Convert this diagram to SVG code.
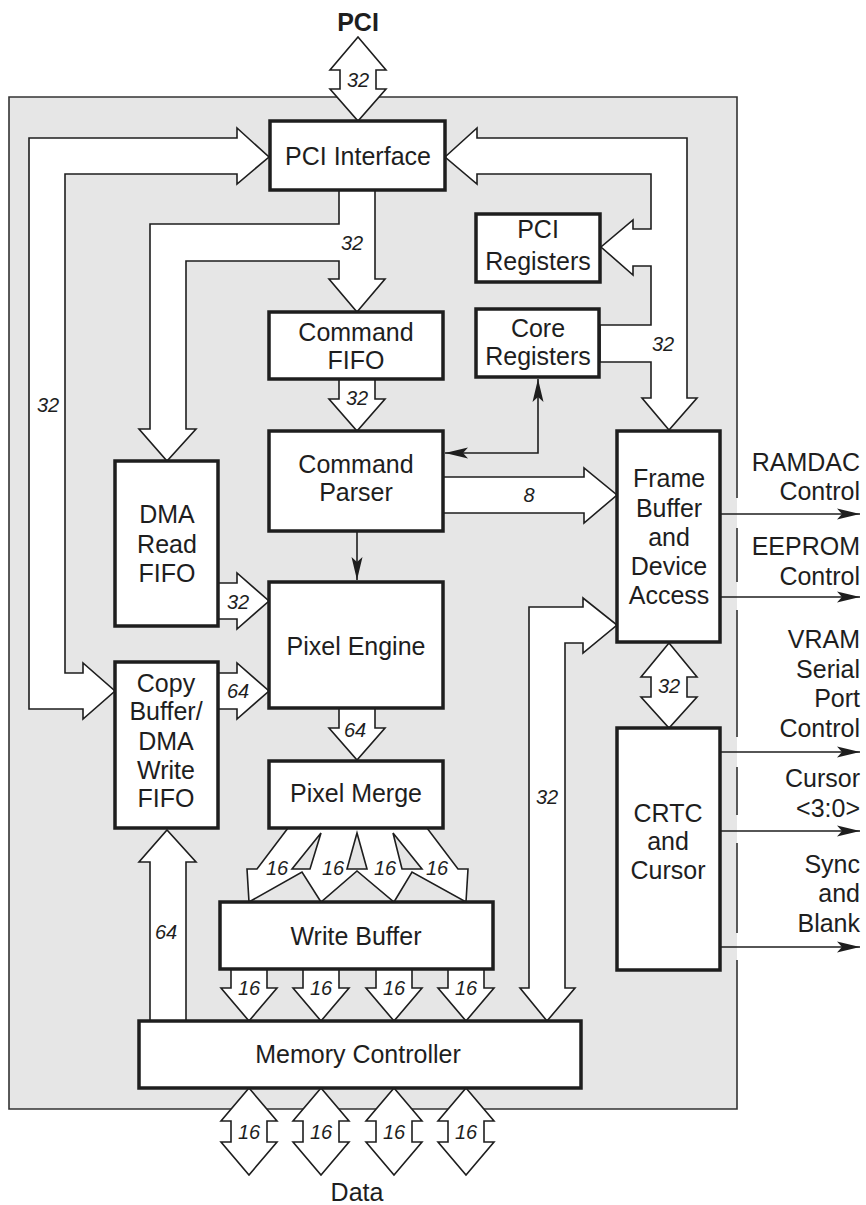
<svg xmlns="http://www.w3.org/2000/svg" width="866" height="1205" viewBox="0 0 866 1205">
<style>
.box{fill:#fff;stroke:#1e1e1e;stroke-width:3.5}
.t{font-family:"Liberation Sans",Arial,sans-serif;font-size:25px;fill:#1e1e1e;text-anchor:middle}
.tb{font-weight:bold}
.r{text-anchor:end}
.num{font-family:"Liberation Sans",Arial,sans-serif;font-size:20px;font-style:italic;fill:#1e1e1e;text-anchor:middle}
.bus{fill:#fff;stroke:#1e1e1e;stroke-width:1.6;stroke-linejoin:miter}
.wire{fill:none;stroke:#1e1e1e;stroke-width:1.6}
.border{fill:none;stroke:#333;stroke-width:1.6}
</style>
<defs>
<marker id="ah" viewBox="-24 -7 25 14" refX="0" refY="0" markerWidth="25" markerHeight="14" markerUnits="userSpaceOnUse" orient="auto-start-reverse">
<path d="M0,0 L-23,-5.5 L-18,0 L-23,5.5 Z" fill="#1e1e1e"/>
</marker>
</defs>

<g id="chip">
<rect x="9" y="97" width="728" height="1012" fill="#e6e6e6"/>
<path class="border" d="M737,498 V97 H9 V1109 H737 V960 M737,933 V843 M737,815 V767 M737,737 V610 M737,582 V528"/>
</g>

<g id="connectors">
<!-- PCI external double arrow -->
<path class="bus" d="M358,37 L386,70 L376,70 L376,89 L386,89 L358,121 L330,89 L340,89 L340,70 L330,70 Z"/>
<!-- Left bus PCI Interface <-> Copy Buffer -->
<path class="bus" d="M237,138 L29,138 L29,709 L83,709 L83,719 L115,691 L83,663 L83,673 L65,673 L65,174 L237,174 L237,184 L269,157 L237,128 Z"/>
<!-- PCI Interface -> Command FIFO and DMA Read FIFO -->
<path class="bus" d="M339,190 L339,224 L150,224 L150,429 L139,429 L167,461 L196,429 L186,429 L186,261 L339,261 L339,279 L329,279 L357,312 L385,279 L375,279 L375,190 Z"/>
<!-- Right bus PCI Interface <-> PCI Registers, Core Registers, Frame Buffer -->
<path class="bus" d="M445,157 L477,128 L477,138 L687,138 L687,398 L697,398 L669,430 L642,398 L651,398 L651,362 L600,362 L600,325 L651,325 L651,266 L633,266 L633,275 L601,247 L633,220 L633,229 L651,229 L651,174 L477,174 L477,184 Z"/>
<!-- Command FIFO -> Command Parser -->
<path class="bus" d="M339,379 L339,399 L329,399 L357,431 L385,399 L375,399 L375,379 Z"/>
<!-- Command Parser -> Frame Buffer (8) -->
<path class="bus" d="M443,477 L584,477 L584,468 L617,495 L584,523 L584,513 L443,513 Z"/>
<!-- DMA Read FIFO -> Pixel Engine -->
<path class="bus" d="M218,583 L237,583 L237,573 L269,601 L237,629 L237,619 L218,619 Z"/>
<!-- Copy Buffer -> Pixel Engine -->
<path class="bus" d="M218,673 L237,673 L237,663 L269,691 L237,719 L237,709 L218,709 Z"/>
<!-- Pixel Engine -> Pixel Merge -->
<path class="bus" d="M339,708 L339,728 L329,728 L357,760 L385,728 L375,728 L375,708 Z"/>
<!-- Pixel Merge -> Write Buffer fan -->
<path class="bus" fill-rule="evenodd" d="M288,828 L257,869 L247,869 L249,902 L302,872 L321,902 L357,871 L394,902 L412,872 L466,902 L468,869 L458,869 L427,828 Z M321,833 L292,869 L310,869 Z M357,833 L347,869 L367,869 Z M393,833 L402,869 L422,869 Z"/>
<!-- Write Buffer -> Memory Controller -->
<path class="bus" d="M231,969 L231,988 L221,988 L249,1021 L277,988 L267,988 L267,969 Z"/>
<path class="bus" d="M303,969 L303,988 L293,988 L321,1021 L349,988 L339,988 L339,969 Z"/>
<path class="bus" d="M376,969 L376,988 L366,988 L394,1021 L422,988 L412,988 L412,969 Z"/>
<path class="bus" d="M448,969 L448,988 L438,988 L466,1021 L494,988 L484,988 L484,969 Z"/>
<!-- Memory Controller -> Copy Buffer -->
<path class="bus" d="M150,1021 L150,862 L139,862 L167,830 L196,862 L186,862 L186,1021 Z"/>
<!-- Memory Controller <-> Frame Buffer -->
<path class="bus" d="M583,607 L529,607 L529,988 L520,988 L547,1021 L575,988 L565,988 L565,643 L583,643 L583,653 L617,625 L583,598 Z"/>
<!-- Frame Buffer <-> CRTC -->
<path class="bus" d="M669,643 L697,677 L687,677 L687,697 L697,697 L669,728 L641,697 L651,697 L651,677 L641,677 Z"/>
<!-- Memory data double arrows -->
<path class="bus" d="M249,1088 L277,1121 L267,1121 L267,1142 L277,1142 L249,1175 L221,1142 L231,1142 L231,1121 L221,1121 Z"/>
<path class="bus" d="M321,1088 L349,1121 L339,1121 L339,1142 L349,1142 L321,1175 L293,1142 L303,1142 L303,1121 L293,1121 Z"/>
<path class="bus" d="M394,1088 L422,1121 L412,1121 L412,1142 L422,1142 L394,1175 L366,1142 L376,1142 L376,1121 L366,1121 Z"/>
<path class="bus" d="M466,1088 L494,1121 L484,1121 L484,1142 L494,1142 L466,1175 L438,1142 L448,1142 L448,1121 L438,1121 Z"/>
<!-- thin control arrows -->
<line class="wire" x1="357" y1="531" x2="357" y2="580" marker-end="url(#ah)"/>
<polyline class="wire" points="538,379 538,453 445,453" marker-start="url(#ah)" marker-end="url(#ah)"/>
<line class="wire" x1="720" y1="514" x2="860" y2="514" marker-end="url(#ah)"/>
<line class="wire" x1="720" y1="597" x2="860" y2="597" marker-end="url(#ah)"/>
<line class="wire" x1="720" y1="752" x2="860" y2="752" marker-end="url(#ah)"/>
<line class="wire" x1="720" y1="831" x2="860" y2="831" marker-end="url(#ah)"/>
<line class="wire" x1="720" y1="947" x2="860" y2="947" marker-end="url(#ah)"/>
<!-- bus widths -->
<text class="num" x="358" y="87">32</text>
<text class="num" x="48" y="412">32</text>
<text class="num" x="352" y="250">32</text>
<text class="num" x="357" y="405">32</text>
<text class="num" x="663" y="351">32</text>
<text class="num" x="238" y="609">32</text>
<text class="num" x="238" y="698">64</text>
<text class="num" x="355" y="737">64</text>
<text class="num" x="529" y="502">8</text>
<text class="num" x="669" y="693">32</text>
<text class="num" x="547" y="804">32</text>
<text class="num" x="166" y="939">64</text>
<text class="num" x="277" y="875">16</text>
<text class="num" x="333" y="875">16</text>
<text class="num" x="385" y="875">16</text>
<text class="num" x="437" y="875">16</text>
<text class="num" x="249" y="995">16</text>
<text class="num" x="321" y="995">16</text>
<text class="num" x="394" y="995">16</text>
<text class="num" x="466" y="995">16</text>
<text class="num" x="249" y="1139">16</text>
<text class="num" x="321" y="1139">16</text>
<text class="num" x="394" y="1139">16</text>
<text class="num" x="466" y="1139">16</text>
</g>

<g id="pci-label"><text class="t tb" x="358" y="31">PCI</text></g>
<g id="data-label"><text class="t" x="357" y="1201">Data</text></g>

<g id="pci-interface"><rect class="box" x="270" y="121" width="175" height="69"/><text class="t" x="358" y="165">PCI Interface</text></g>
<g id="pci-registers"><rect class="box" x="476" y="214" width="124" height="68"/><text class="t" x="538" y="238">PCI</text><text class="t" x="538" y="270">Registers</text></g>
<g id="core-registers"><rect class="box" x="476" y="309" width="123" height="68"/><text class="t" x="538" y="337">Core</text><text class="t" x="538" y="365">Registers</text></g>
<g id="command-fifo"><rect class="box" x="269" y="312" width="174" height="67"/><text class="t" x="356" y="341">Command</text><text class="t" x="356" y="369">FIFO</text></g>
<g id="command-parser"><rect class="box" x="269" y="431" width="174" height="100"/><text class="t" x="356" y="473">Command</text><text class="t" x="356" y="501">Parser</text></g>
<g id="dma-read-fifo"><rect class="box" x="115" y="461" width="103" height="165"/><text class="t" x="167" y="523">DMA</text><text class="t" x="167" y="553">Read</text><text class="t" x="167" y="582">FIFO</text></g>
<g id="pixel-engine"><rect class="box" x="269" y="582" width="174" height="126"/><text class="t" x="356" y="655">Pixel Engine</text></g>
<g id="copy-buffer"><rect class="box" x="115" y="662" width="103" height="166"/><text class="t" x="166" y="692">Copy</text><text class="t" x="166" y="720">Buffer/</text><text class="t" x="166" y="750">DMA</text><text class="t" x="166" y="779">Write</text><text class="t" x="166" y="807">FIFO</text></g>
<g id="pixel-merge"><rect class="box" x="269" y="761" width="174" height="67"/><text class="t" x="356" y="802">Pixel Merge</text></g>
<g id="write-buffer"><rect class="box" x="220" y="902" width="273" height="67"/><text class="t" x="356" y="945">Write Buffer</text></g>
<g id="memory-controller"><rect class="box" x="139" y="1021" width="442" height="67"/><text class="t" x="358" y="1063">Memory Controller</text></g>
<g id="frame-buffer"><rect class="box" x="617" y="431" width="103" height="211"/><text class="t" x="669" y="487">Frame</text><text class="t" x="669" y="517">Buffer</text><text class="t" x="669" y="546">and</text><text class="t" x="669" y="575">Device</text><text class="t" x="669" y="604">Access</text></g>
<g id="crtc"><rect class="box" x="617" y="728" width="103" height="242"/><text class="t" x="668" y="822">CRTC</text><text class="t" x="668" y="850">and</text><text class="t" x="668" y="879">Cursor</text></g>

<g id="outputs">
<text class="t r" x="860" y="471">RAMDAC</text><text class="t r" x="860" y="500">Control</text>
<text class="t r" x="860" y="555">EEPROM</text><text class="t r" x="860" y="585">Control</text>
<text class="t r" x="860" y="648">VRAM</text><text class="t r" x="860" y="678">Serial</text><text class="t r" x="860" y="707">Port</text><text class="t r" x="860" y="737">Control</text>
<text class="t r" x="860" y="787">Cursor</text><text class="t r" x="860" y="817">&lt;3:0&gt;</text>
<text class="t r" x="860" y="873">Sync</text><text class="t r" x="860" y="902">and</text><text class="t r" x="860" y="932">Blank</text>
</g>
</svg>
